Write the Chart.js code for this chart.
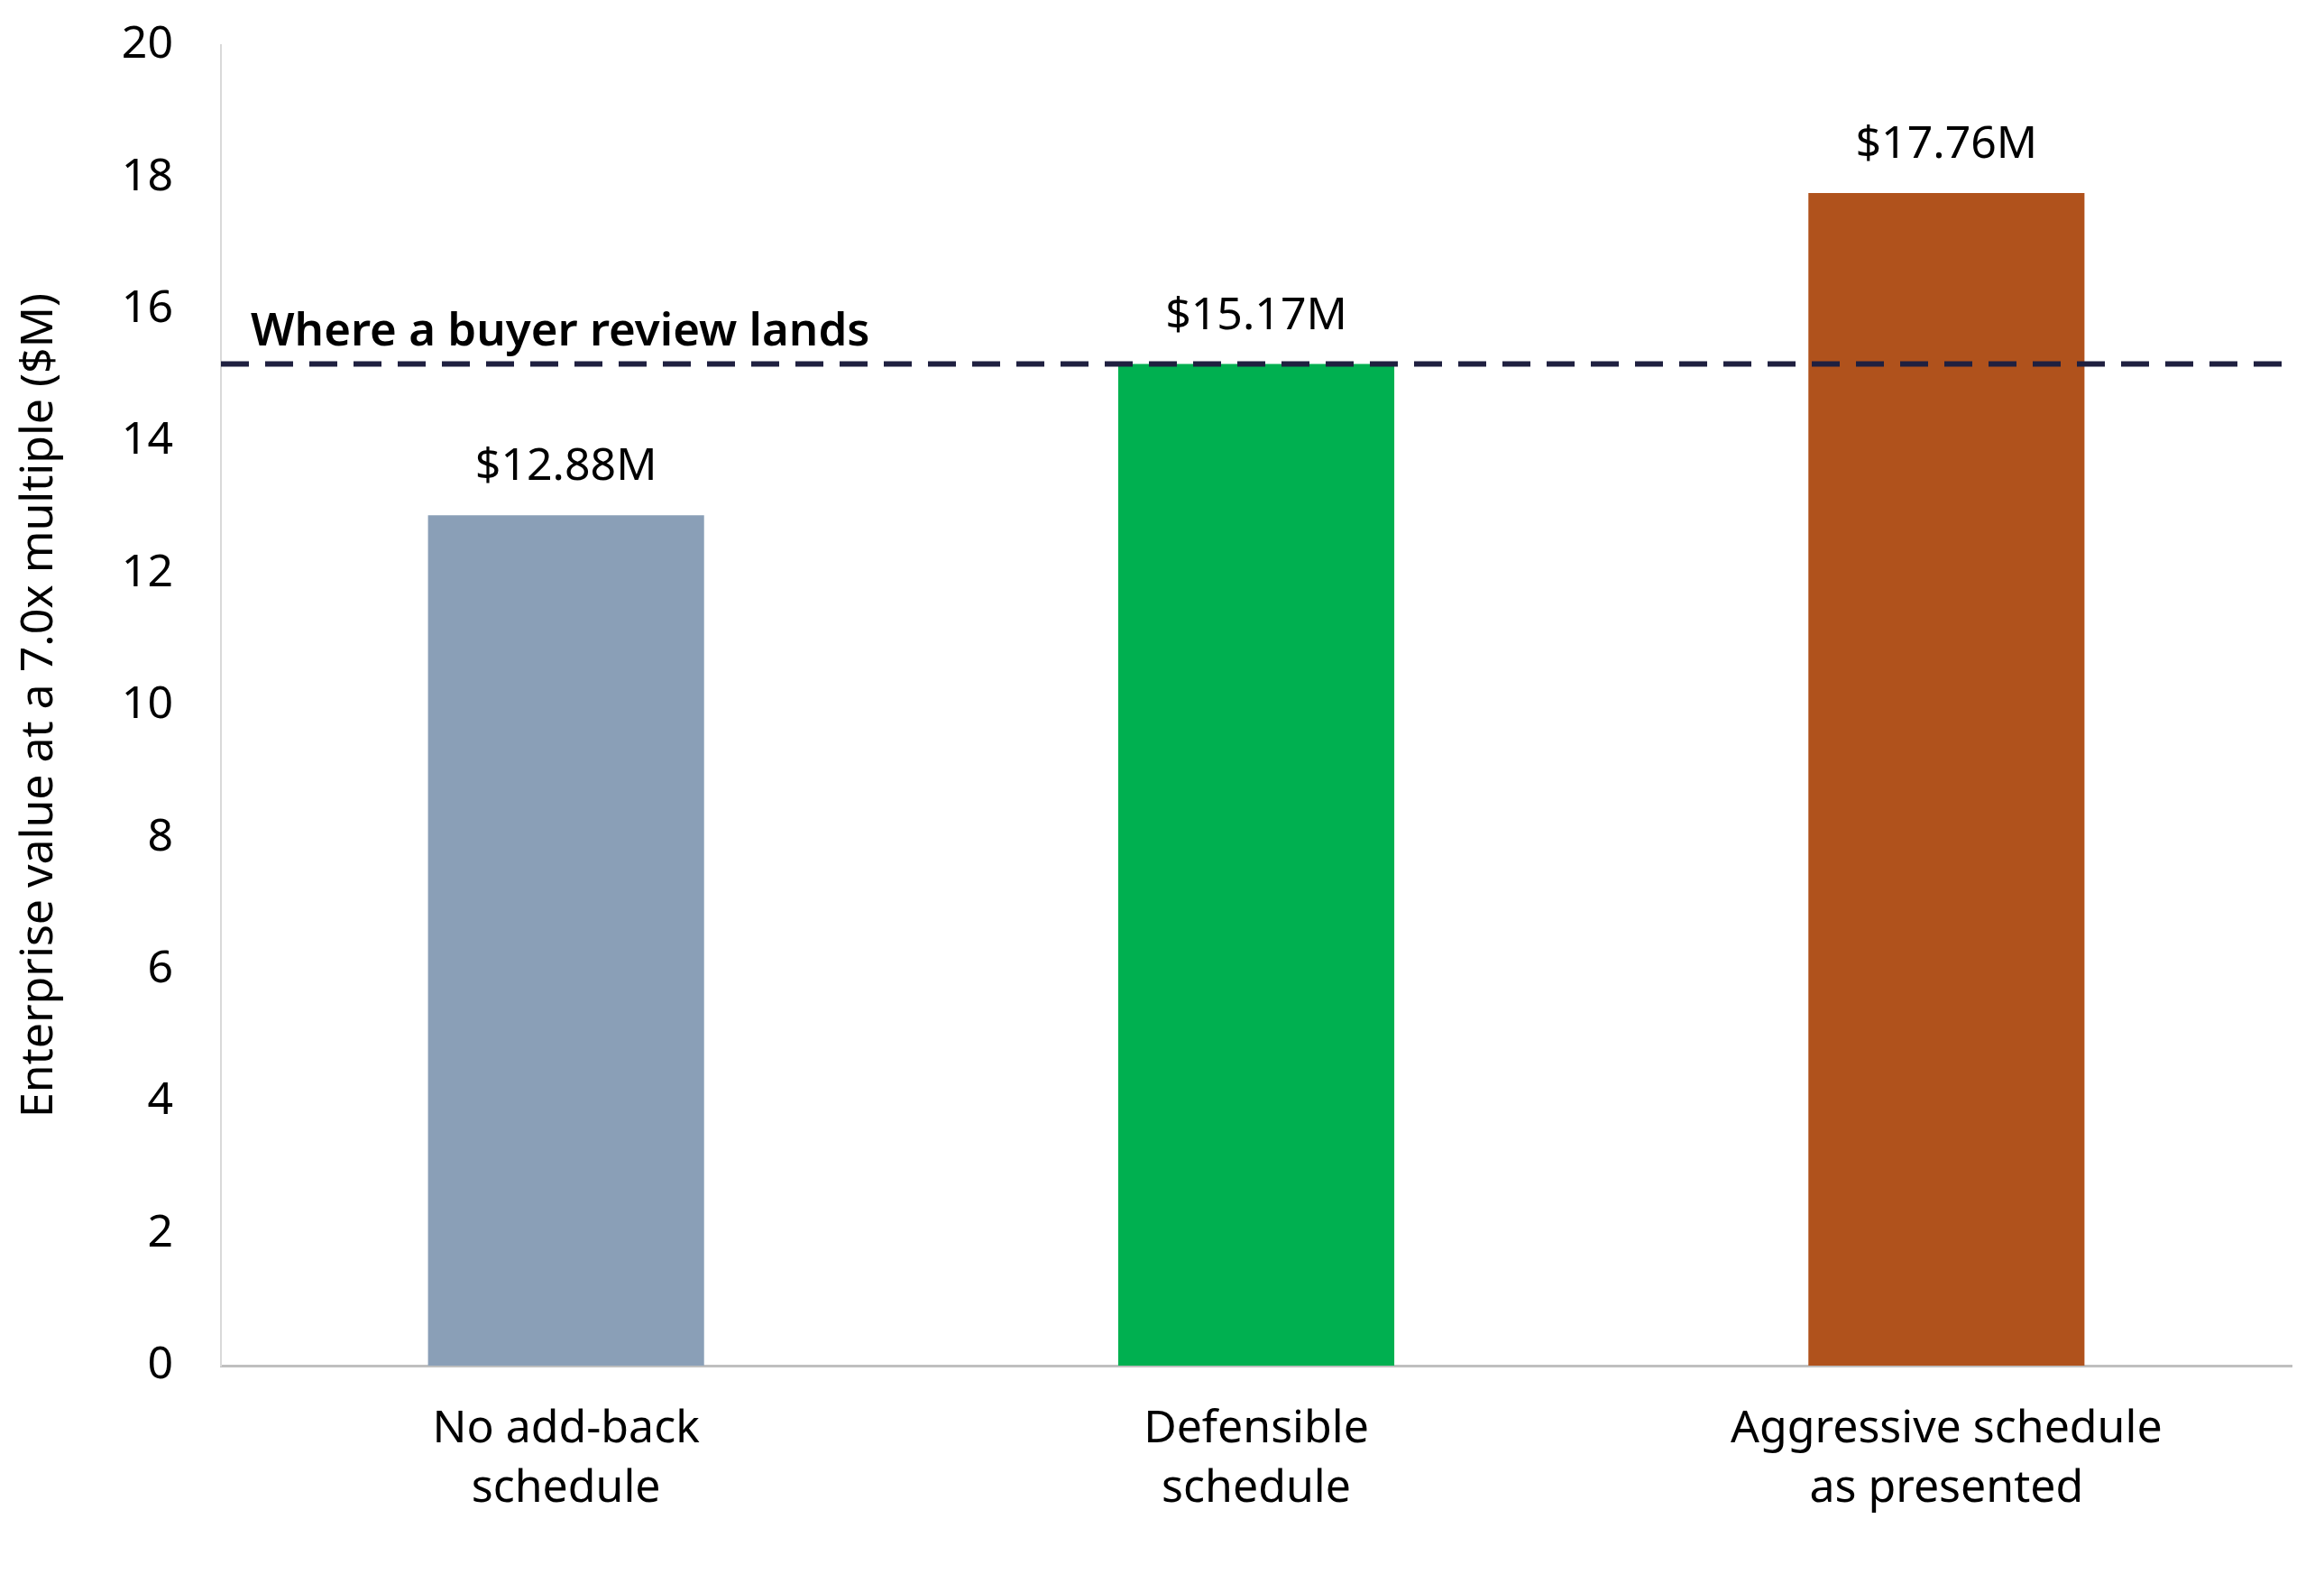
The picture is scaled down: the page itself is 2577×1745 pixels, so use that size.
<!DOCTYPE html>
<html>
<head>
<meta charset="utf-8">
<script src="https://cdn.jsdelivr.net/npm/chart.js@4.4.1/dist/chart.umd.min.js"></script>
<style>
  html, body { margin: 0; padding: 0; background: #fff; }
  #wrap { width: 2577px; height: 1745px; position: relative; }
</style>
</head>
<body>
<div id="wrap"><canvas id="chart"></canvas></div>
<script>
const categories = [['No add-back', 'schedule'], ['Defensible', 'schedule'], ['Aggressive schedule', 'as presented']];
const values = [12.88, 15.17, 17.76];
const valueLabels = ['$12.88M', '$15.17M', '$17.76M'];
const barColors = ['#8a9fb7', '#00b050', '#b0521c'];
const yTicks = [0, 2, 4, 6, 8, 10, 12, 14, 16, 18, 20];
const reviewValue = 15.17;
const reviewLabel = 'Where a buyer review lands';

const FONT = '"Noto Sans", "Open Sans", sans-serif';

// dashed reference line, its caption and the value labels over the bars
const overlay = {
  id: 'overlay',
  afterDatasetsDraw(chart) {
    const { ctx, chartArea, scales } = chart;
    const y = scales.y.getPixelForValue(reviewValue);
    ctx.save();
    ctx.strokeStyle = '#1f2040';
    ctx.lineWidth = 6;
    ctx.setLineDash([31, 18]);
    ctx.beginPath();
    ctx.moveTo(chartArea.left, y);
    ctx.lineTo(chartArea.right, y);
    ctx.stroke();
    ctx.setLineDash([]);

    ctx.fillStyle = '#000';
    ctx.font = '600 51px ' + FONT;
    ctx.textAlign = 'left';
    ctx.textBaseline = 'alphabetic';
    ctx.fillText(reviewLabel, chartArea.left + 33, y - 21);

    ctx.font = '50px ' + FONT;
    ctx.textAlign = 'center';
    ctx.textBaseline = 'middle';
    chart.getDatasetMeta(0).data.forEach((bar, i) => {
      ctx.fillText(valueLabels[i], bar.x, bar.y - 53);
    });
    ctx.restore();
  }
};

new Chart(document.getElementById('chart'), {
  type: 'bar',
  data: {
    labels: categories,
    datasets: [{
      data: values,
      backgroundColor: barColors,
      barPercentage: 0.4,
      categoryPercentage: 1
    }]
  },
  options: {
    responsive: true,
    maintainAspectRatio: false,
    animation: false,
    devicePixelRatio: 1,
    layout: { padding: { top: 50, right: 36, left: 0, bottom: 0 } },
    plugins: { legend: { display: false }, tooltip: { enabled: false } },
    scales: {
      x: {
        grid: { display: false, drawTicks: false },
        border: { color: '#bfbfbf', width: 3 },
        ticks: { color: '#000', font: { family: FONT, size: 50, lineHeight: 1.32 }, padding: 38, maxRotation: 0 },
        afterFit(scale) { scale.height = 231; }
      },
      y: {
        min: 0,
        max: 20,
        afterBuildTicks(scale) { scale.ticks = yTicks.map(v => ({ value: v })); },
        grid: { display: false, drawTicks: false },
        border: { color: '#d9d9d9', width: 2 },
        ticks: { color: '#000', font: { family: FONT, size: 50 }, padding: 53 },
        title: {
          display: true,
          text: 'Enterprise value at a 7.0x multiple ($M)',
          color: '#000',
          font: { family: FONT, size: 50 },
          padding: { top: 14, bottom: 0 }
        },
        afterFit(scale) {
          scale.width = 245;
          scale.paddingTop = 0;
          scale.paddingBottom = 0;
        }
      }
    }
  },
  plugins: [overlay]
});
</script>
</body>
</html>
